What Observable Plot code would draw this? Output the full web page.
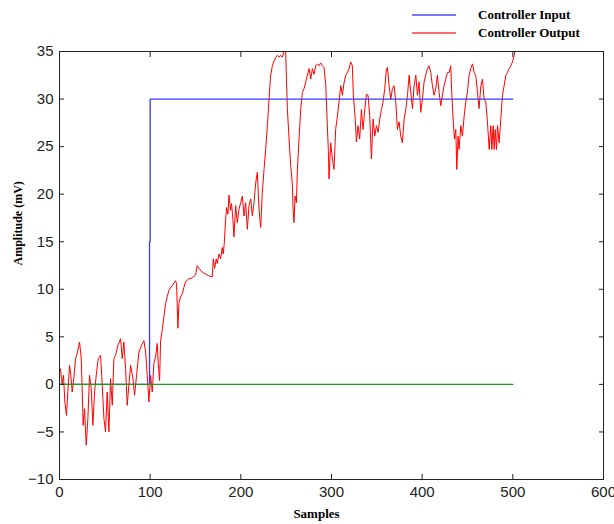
<!DOCTYPE html>
<html><head><meta charset="utf-8">
<script src="https://cdn.jsdelivr.net/npm/d3@7"></script>
<script src="https://cdn.jsdelivr.net/npm/@observablehq/plot@0.6"></script>
<style>
body{margin:0;background:#fff;}
#wrap{position:relative;width:614px;height:524px;background:#fff;}
#chart{position:absolute;left:0;top:0;z-index:1;}
#legend{position:absolute;left:0;top:0;width:614px;height:45px;z-index:2;}
.leg{position:absolute;font-family:"Liberation Serif","Times New Roman",serif;font-weight:bold;font-size:13px;color:#000;line-height:14px;white-space:nowrap;}
.swatch{position:absolute;width:44px;height:2px;}
</style></head><body>
<div id="wrap"><div id="chart"></div><div id="legend"></div></div>
<script>
const xTicks = [0, 100, 200, 300, 400, 500, 600];
const yTicks = [-10, -5, 0, 5, 10, 15, 20, 25, 30, 35];
const legendLabels = ["Controller Input", "Controller Output"];
const legendColors = ["rgb(120,120,255)", "rgb(255,110,110)"];

const inputSample = [0, 99.3, 99.3, 100, 100, 500];
const inputAmplitude = [0, 0, 15, 15, 30, 30];
const zeroSample = [0, 500];
const zeroAmplitude = [0, 0];

const outputSample = [0,1.1,2.2,3,4.4,5.9,7.7,9.2,11.1,12.5,14,15.8,17.7,19.9,22.1,24,25,26.1,27.6,29.5,31.3,33.1,35,36.8,38.7,40.5,42.7,45.3,47.1,49,50.8,52.6,54.5,56.3,58.2,60,61.8,64.4,67.4,69.2,71,72.9,74.7,76.6,78.4,81,82.8,85,87.6,90.5,93.1,95,96.8,98.6,100.5,102.3,
104.1,105.9,107.8,108.9,110.4,111.5,113.3,115.1,117,118.8,120.7,124.3,128,129.1,130.6,131.7,133.5,135.4,137.2,139,142.7,146.4,150.1,151.9,153.8,157.5,161.1,164.8,168.5,169.6,171.1,172.9,174,175.9,177.7,179.5,180.6,181.7,183.2,184.3,185.8,186.9,188.7,189.8,191.3,192.4,
194.3,196.1,198,199.8,201.7,203.5,205.3,207.2,209,210.9,212.7,214.5,216.4,218.2,220.1,221.9,223.7,225.6,227.4,229.3,231.1,232.9,234.8,236.6,238.5,240.3,242.1,244,245.8,247.7,249.5,250.2,251.3,253.2,255,256.9,257.6,258.7,259.8,261.3,262.4,264.2,266.1,267.9,269.7,271.6,273.4,275.3,277.1,278.9,280.8,282.6,284.5,286.3,288.1,290,291.8,293.7,
295.4,296.5,297.3,299.1,301,302.8,304.6,306.5,308.3,310.2,312,313.8,315.7,317.5,319.4,321.2,323,324.1,326,327.5,329.3,331.1,333,334.8,336.7,338.5,340.3,342.2,344,345.9,347.7,349.5,351.4,353.2,355.1,356.9,358.7,360.6,361.7,363.5,365.4,367.2,369,370.9,372.7,374.6,376.4,378.2,380.1,381.9,383.8,385.6,387.4,389.3,391.1,393,394.8,396.6,
398.4,400.3,402.1,403.9,405.8,407.6,409.5,411.3,413.1,415,416.8,418.7,420.5,422.3,424.2,426,427.9,429.7,431.5,432.6,434.1,435.6,437.1,438.2,439.6,440.7,442.6,444.4,446.3,448.1,449.9,451.8,453.6,455.5,457.3,459.1,461,462.8,464.7,466.5,468.3,470.2,472,473.9,475.7,476.8,478.3,479.4,480.5,482,483.1,484.9,486.7,488.6,490.4,492.3,494.1,495.9,497.8,499.6,501.5,502.6];

const outputAmplitude = [1.3,1.65,0.6,0,0.95,-1.85,-3.26,-0.8,2.0,0.95,-0.8,0.6,2.7,3.4,4.45,2.7,-0.45,-4.3,-2.56,-6.4,-3.6,0.95,-0.45,-4.3,-0.8,0.95,2.7,3.05,0,-3.6,-5.0,-0.8,-5.0,0.6,-2.2,2.7,3.05,4.1,4.8,2.7,4.45,1.65,-2.2,0,2.0,0.6,-1.15,0.95,3.4,4.1,4.6,3.4,0.95,-1.85,0.95,-0.8,
2.2,2.9,4.3,2.2,0.4,4.6,5.7,7.1,8.5,9.2,9.9,10.4,10.9,10.6,5.9,8.5,9.2,9.5,10.2,10.8,11.1,11.2,11.5,12.5,12.2,11.8,11.6,11.4,11.3,13.2,12.2,13.2,12.7,13.7,13.2,14.4,13.7,14.8,17.3,18.6,17.9,19.9,18.3,19.0,17.3,15.5,
18.8,17.0,18.4,19.1,19.8,17.7,19.1,16.3,18.8,19.5,17.7,19.1,21.2,22.3,18.4,16.5,20.2,22.6,24.7,27.2,30.0,32.5,33.5,34.0,34.4,34.6,34.4,34.6,34.4,35,35,32.5,29,25.8,23.0,20.9,18.4,17.0,19.8,19.1,22.6,25.8,29.0,30.7,31.1,31.8,32.5,33.2,32.1,33.2,32.6,33.5,33.7,33.5,33.8,33.5,33.3,31.4,
27.2,24.7,21.6,25.4,23.7,22.6,26.8,28.2,29.7,31.4,30.4,31.7,32.5,32.8,33.2,33.9,33.5,30.4,28.2,25.5,27.2,25.8,28.9,26.8,28.9,30.5,30.4,28.2,23.7,27.9,26.1,27.2,26.5,27.9,28.9,29.7,31.1,33.2,33.3,31.4,30.0,31.1,31.4,29.7,26.8,27.6,26.1,25.4,27.9,28.9,30.4,32.5,30.7,29.0,31.4,32.5,30.4,31.8,
28.6,30.0,31.8,32.5,33.2,33.5,32.8,31.4,30.4,31.1,32.5,30.7,29.3,30.4,31.4,32.1,32.8,32.8,33.5,30.7,27.9,25.8,26.8,22.6,26.1,24.7,27.2,26.1,28.2,29.7,30.7,32.5,33.2,33.7,32.8,32.5,30.7,29.0,31.4,32.1,30.0,29.7,27.6,24.7,27.2,24.7,27.2,24.7,26.8,24.7,27.2,25.4,27.9,30.4,31.4,32.5,32.8,33.2,33.5,33.9,34.6,35.3];

const rows = (xs, ys) => xs.map((x, i) => ({x, y: ys[i]}));

const chart = Plot.plot({
  width: 614,
  height: 524,
  marginLeft: 59,
  marginRight: 11,
  marginTop: 51,
  marginBottom: 45,
  x: {domain: [0, 600]},
  y: {domain: [-10, 35]},
  style: {fontFamily: "'Liberation Sans', Arial, sans-serif", fontSize: "15px", color: "#222", background: "white", overflow: "visible"},
  marks: [
    Plot.line(rows(outputSample, outputAmplitude), {x: "x", y: "y", stroke: "#ff0000", strokeWidth: 1, clip: true}),
    Plot.line(rows(inputSample, inputAmplitude), {x: "x", y: "y", stroke: "#3838ff", strokeWidth: 1.3}),
    Plot.line(rows(zeroSample, zeroAmplitude), {x: "x", y: "y", stroke: "#1e9a1e", strokeWidth: 1.3}),
    Plot.frame({stroke: "#222"}),
    Plot.axisX(xTicks, {anchor: "bottom", tickSize: -5, tickPadding: 12, label: null, stroke: "#222"}),
    Plot.axisX(xTicks, {anchor: "top", tickSize: -5, tickFormat: () => "", label: null, stroke: "#222"}),
    Plot.axisY(yTicks, {anchor: "left", tickSize: -5, tickPadding: 11, label: null, stroke: "#222"}),
    Plot.axisY(yTicks, {anchor: "right", tickSize: -5, tickFormat: () => "", label: null, stroke: "#222"}),
    Plot.text(["Samples"], {frameAnchor: "bottom", dy: 38, dx: -15, fontFamily: "'Liberation Serif', serif", fontWeight: "bold", fontSize: 13, fill: "#000"}),
    Plot.text(["Amplitude (mV)"], {frameAnchor: "left", rotate: -90, dx: -41, fontFamily: "'Liberation Serif', serif", fontWeight: "bold", fontSize: 12, fill: "#000"})
  ]
});

document.getElementById("chart").appendChild(chart);
const legend = document.getElementById("legend");
legendLabels.forEach((label, i) => {
  const sw = document.createElement("div");
  sw.className = "swatch";
  sw.style.left = "412px";
  sw.style.top = (14 + i * 18) + "px";
  sw.style.backgroundColor = legendColors[i];
  legend.appendChild(sw);
  const t = document.createElement("div");
  t.className = "leg";
  t.style.left = "478px";
  t.style.top = (8 + i * 18) + "px";
  t.textContent = label;
  legend.appendChild(t);
});
</script>
</body></html>
